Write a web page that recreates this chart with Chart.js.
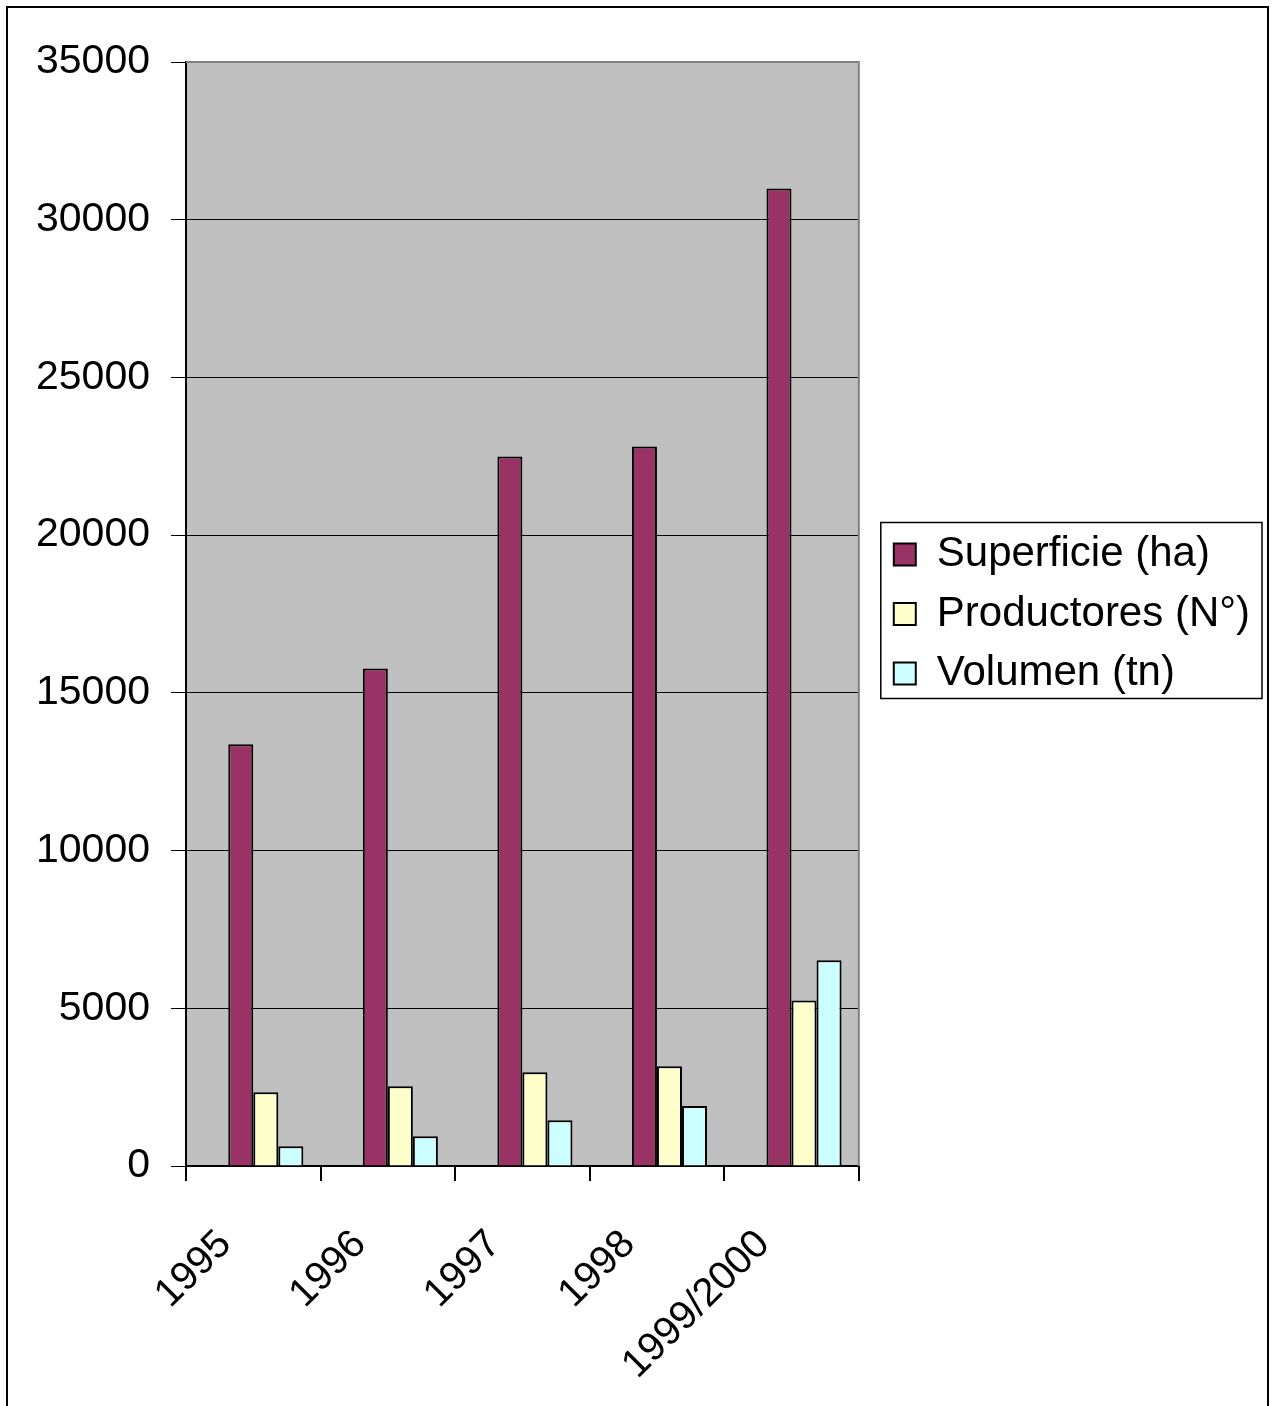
<!DOCTYPE html>
<html>
<head>
<meta charset="utf-8">
<script src="https://cdn.jsdelivr.net/npm/chart.js@4.4.1/dist/chart.umd.min.js"></script>
<style>
  html, body { margin: 0; padding: 0; background: #fff; }
  #frame { position: absolute; left: 6px; top: 6px; width: 1263px; height: 1420px; border: 2px solid #000; box-sizing: border-box; }
  #wrap { position: absolute; left: 0; top: 0; width: 1274px; height: 1406px; }
</style>
</head>
<body>
<div id="frame"></div>
<div id="wrap"><canvas id="chart"></canvas></div>
<script>
// categorías y series
const years = ["1995", "1996", "1997", "1998", "1999/2000"];
const superficie = [13370, 15770, 22490, 22810, 30990];
const productores = [2340, 2530, 2970, 3160, 5250];
const volumen = [630, 940, 1450, 1900, 6520];
const yMax = 35000;
const yStep = 5000;

Chart.defaults.font.family = "'Liberation Sans', Arial, sans-serif";
Chart.defaults.color = "#000";

// fondo gris del área de trazado, borde gris arriba/derecha y recuadro de la leyenda
const plotArea = {
  id: 'plotArea',
  beforeDraw(chart) {
    const { ctx, chartArea: a } = chart;
    ctx.save();
    ctx.fillStyle = '#C0C0C0';
    ctx.fillRect(a.left, a.top, a.right - a.left, a.bottom - a.top);
    ctx.restore();
  },
  afterDraw(chart) {
    const { ctx, chartArea: a } = chart;
    ctx.save();
    ctx.strokeStyle = '#808080';
    ctx.lineWidth = 2;
    ctx.beginPath();
    ctx.moveTo(a.left, a.top);
    ctx.lineTo(a.right, a.top);
    ctx.lineTo(a.right, a.bottom);
    ctx.stroke();
    const hb = chart.legend.legendHitBoxes;
    const minX = Math.min(...hb.map(h => h.left)) - 13;
    const maxX = Math.max(...hb.map(h => h.left + h.width)) + 12;
    const minY = Math.min(...hb.map(h => h.top)) - 11;
    const maxY = Math.max(...hb.map(h => h.top + h.height)) + 4;
    ctx.strokeStyle = '#000';
    ctx.lineWidth = 1.5;
    ctx.strokeRect(minX, minY, maxX - minX, maxY - minY);
    ctx.restore();
  }
};

new Chart(document.getElementById('chart'), {
  type: 'bar',
  data: {
    labels: years,
    datasets: [
      { label: '', data: years.map(() => null) }, // hueco a la izquierda de cada grupo
      { label: 'Superficie (ha)', data: superficie, backgroundColor: '#993366' },
      { label: 'Productores (N°)', data: productores, backgroundColor: '#FFFFCC' },
      { label: 'Volumen (tn)', data: volumen, backgroundColor: '#CCFFFF' }
    ]
  },
  options: {
    responsive: true,
    maintainAspectRatio: false,
    animation: false,
    layout: { padding: { left: 15, top: 62, right: 14, bottom: 0 } },
    datasets: {
      bar: { categoryPercentage: 0.744, barPercentage: 1, borderColor: '#000', borderWidth: 2 }
    },
    plugins: {
      legend: {
        position: 'right',
        fullSize: false,
        maxWidth: 500,
        labels: {
          filter: item => item.text !== '',
          font: { size: 42 },
          boxWidth: 22,
          boxHeight: 22,
          padding: 17.5,
          color: '#000'
        }
      },
      tooltip: { enabled: false }
    },
    scales: {
      x: {
        grid: { drawOnChartArea: false, color: '#000', lineWidth: 2, tickLength: 15 },
        border: { color: '#000', width: 2 },
        ticks: { font: { size: 40 }, minRotation: 45, maxRotation: 45, labelOffset: -28, padding: 40, autoSkip: false },
        afterFit: s => { s.height = 240; }
      },
      y: {
        min: 0,
        max: yMax,
        grid: { color: '#000', lineWidth: 1, tickLength: 15 },
        border: { color: '#000', width: 2 },
        ticks: { stepSize: yStep, font: { size: 41 }, padding: 21, callback: v => String(v) }
      },
      // separación entre el área de trazado y la leyenda
      gap: {
        position: 'right',
        display: true,
        grid: { display: false },
        border: { display: false },
        ticks: { display: false },
        afterFit: s => { s.width = 17.5; }
      }
    }
  },
  plugins: [plotArea]
});
</script>
</body>
</html>
